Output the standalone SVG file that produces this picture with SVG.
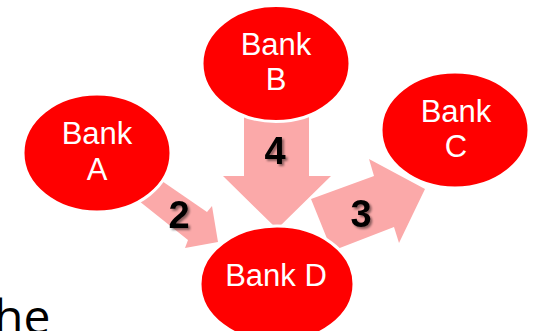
<svg xmlns="http://www.w3.org/2000/svg" width="537" height="331" viewBox="0 0 537 331">
<defs>
<style>
.bank{fill:#FF0000;stroke:#FFFFFF;stroke-width:3}
.lbl{font-family:"Liberation Sans",Arial,sans-serif;font-size:31px;fill:#FFFFFF;text-anchor:middle}
.arrow{fill:#FBA9A9;stroke:none}
.num{font-family:"Liberation Sans",Arial,sans-serif;font-size:38px;font-weight:bold;fill:#000000;text-anchor:middle}
</style>
<filter id="sh" x="-30%" y="-30%" width="160%" height="160%">
<feDropShadow dx="2" dy="2" stdDeviation="1.2" flood-color="#000000" flood-opacity="0.45"/>
</filter>
</defs>
<rect width="537" height="331" fill="#FFFFFF"/>
<g id="connectors">
<polygon class="arrow" points="244,115 309,115 309,176 331,176 277,229 223,176 244,176"/>
<polygon class="arrow" points="159,179 207,212 212,206 218,242 185,248 188,240 134,197"/>
<polygon class="arrow" points="311,199 374,176 369,159 425,189 399,243 394,227 332,251"/>
</g>
<g id="bankA">
<ellipse class="bank" cx="97" cy="153" rx="74" ry="59"/>
<text class="lbl" x="97" y="144">Bank</text>
<text class="lbl" x="97" y="180">A</text>
</g>
<g id="bankB">
<ellipse class="bank" cx="276" cy="63.5" rx="74" ry="58"/>
<text class="lbl" x="276" y="55">Bank</text>
<text class="lbl" x="276" y="90">B</text>
</g>
<g id="bankC">
<ellipse class="bank" cx="455" cy="130" rx="74" ry="58"/>
<text class="lbl" x="456" y="122">Bank</text>
<text class="lbl" x="456" y="157">C</text>
</g>
<g id="bankD">
<ellipse class="bank" cx="277" cy="284" rx="77" ry="58"/>
<text class="lbl" x="276" y="286">Bank D</text>
</g>
<g id="labels">
<text class="num" x="179" y="228" filter="url(#sh)">2</text>
<text class="num" x="361" y="227" filter="url(#sh)">3</text>
<text class="num" x="275" y="164" filter="url(#sh)">4</text>
</g>
<text x="-6" y="333.5" font-family="'Open Sans',sans-serif" font-size="48" fill="#000000">he</text>
</svg>
